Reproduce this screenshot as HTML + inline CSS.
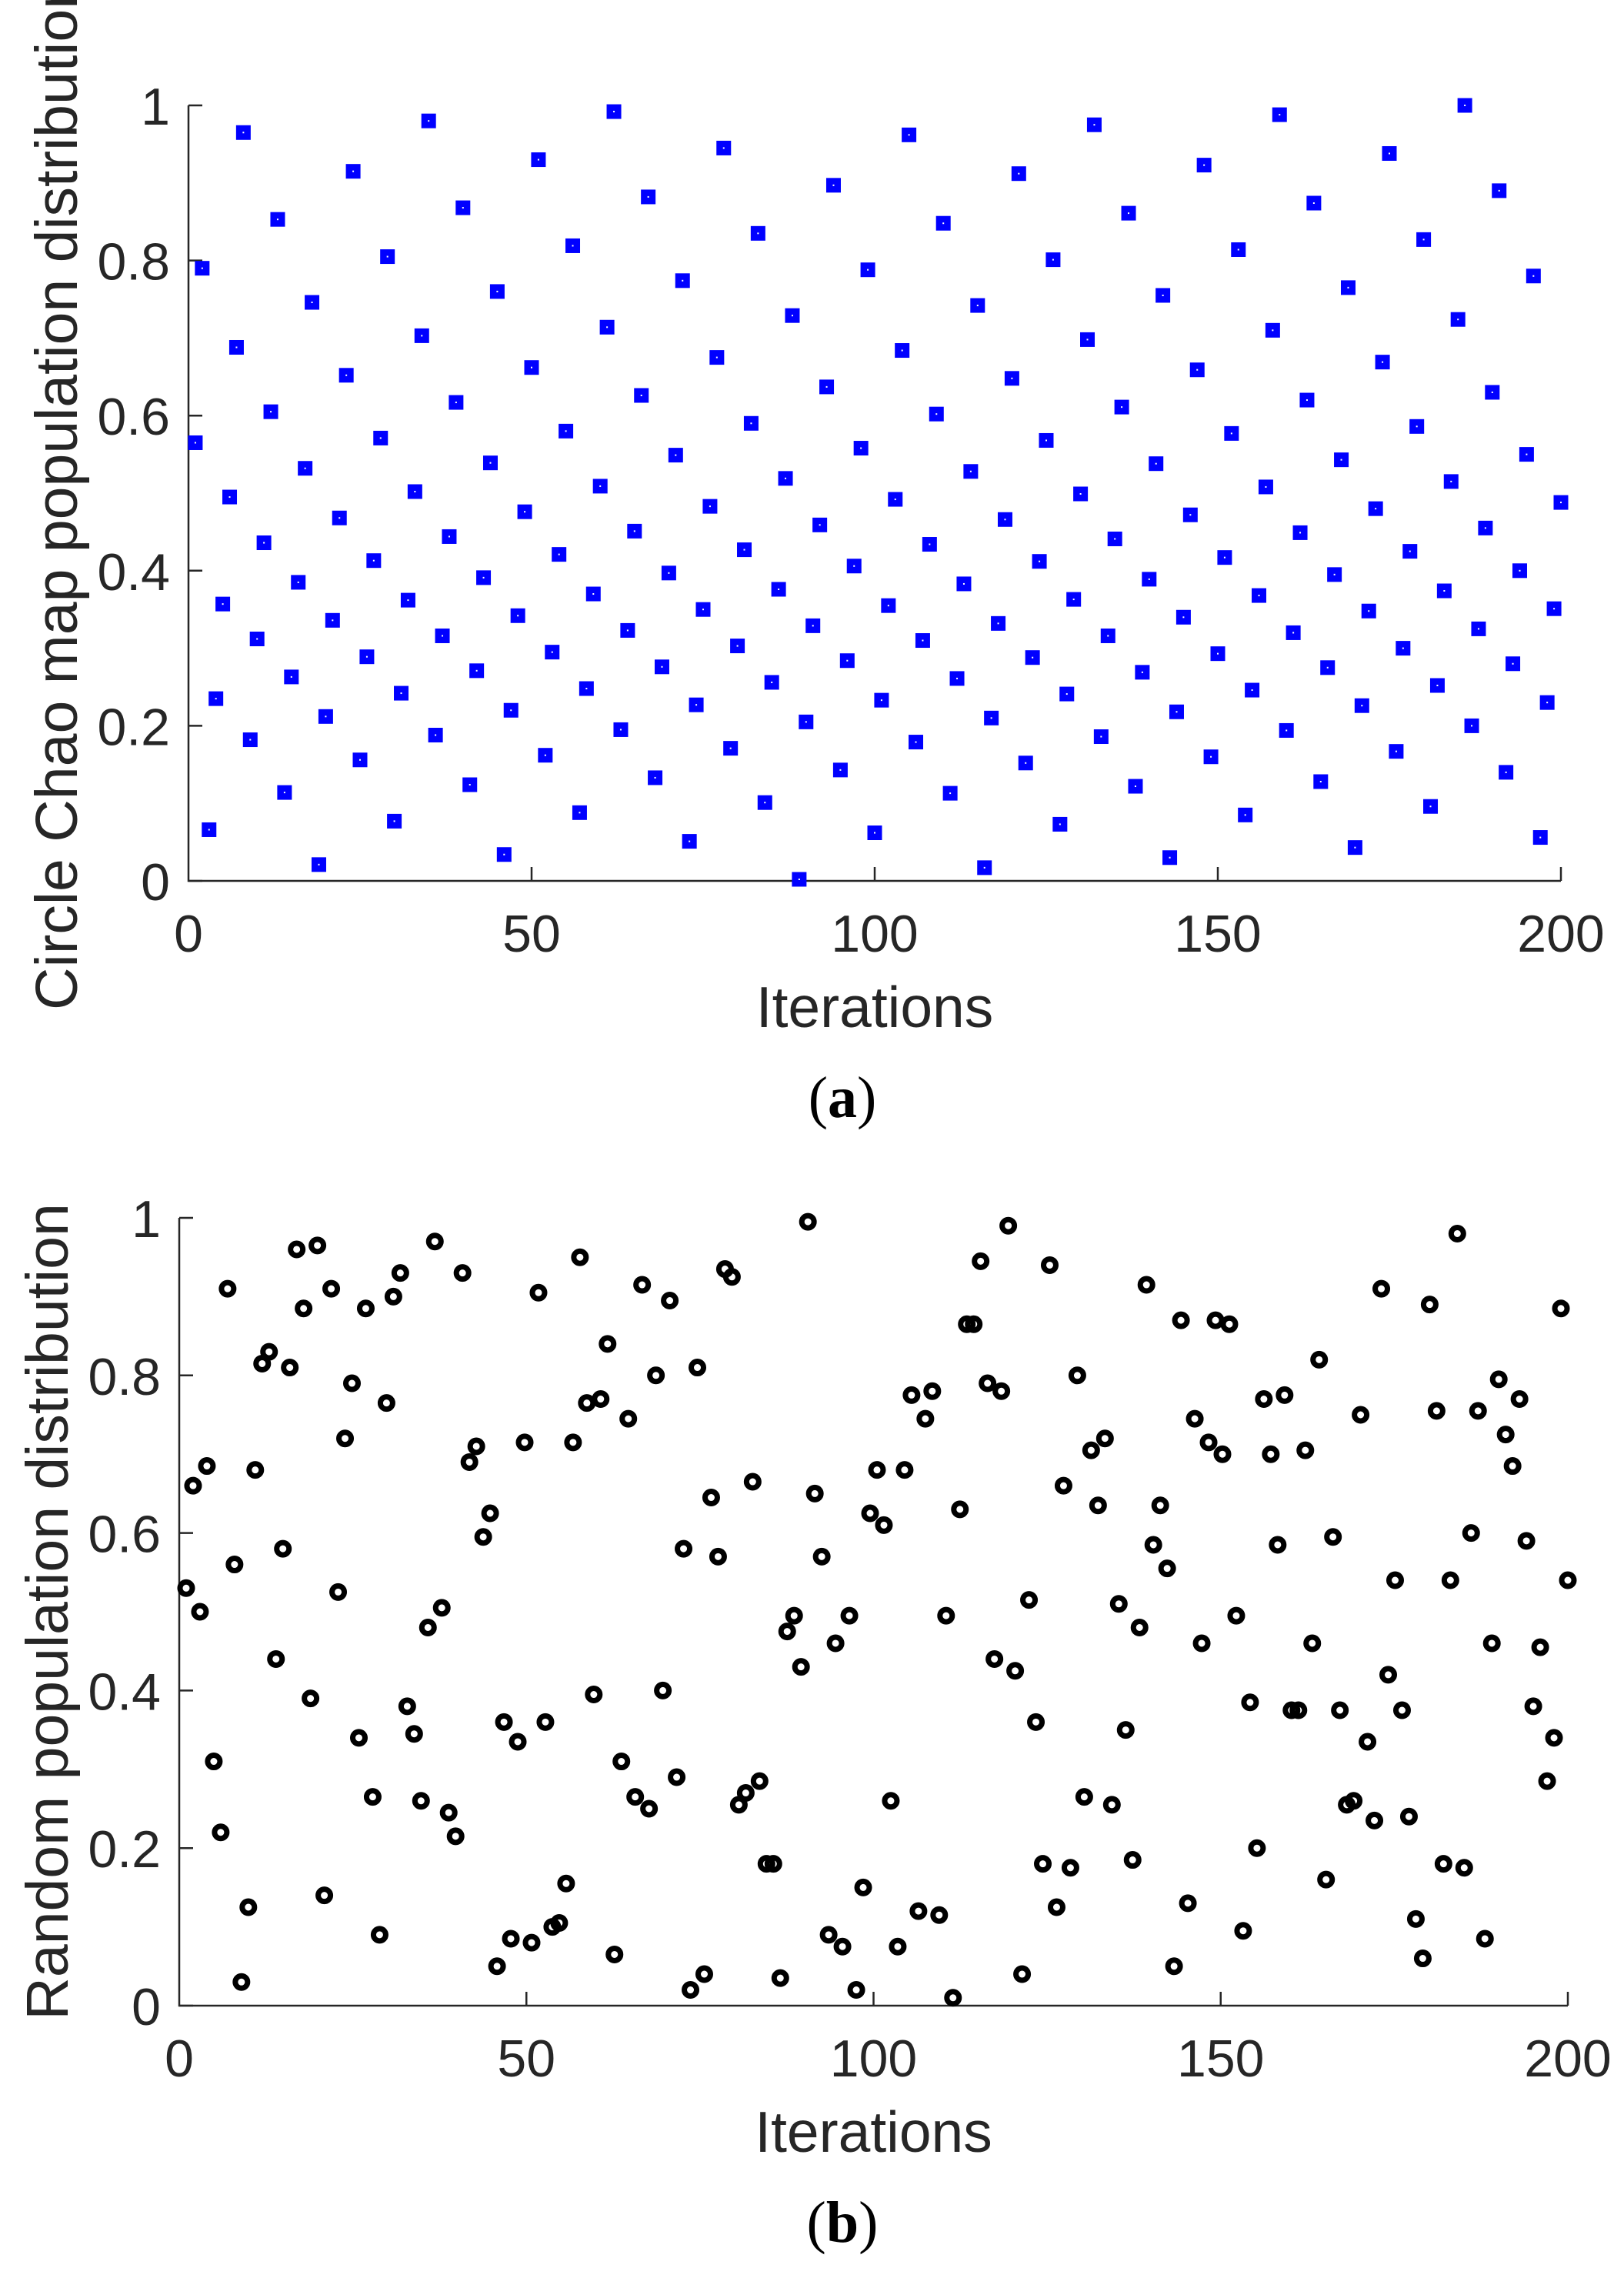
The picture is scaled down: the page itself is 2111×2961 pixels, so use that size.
<!DOCTYPE html>
<html><head><meta charset="utf-8">
<style>
html,body{margin:0;padding:0;background:#fff;}
svg{display:block;}
text{font-family:"Liberation Sans",Arial,sans-serif;fill:#262626;}
</style></head>
<body>
<svg id="fig" width="2111" height="2961" viewBox="0 0 2111 2961" xmlns="http://www.w3.org/2000/svg">
<rect width="2111" height="2961" fill="#fff"/>
<g id="chartA"></g>
<g id="chartB"></g>
<text x="1095" y="1452" text-anchor="middle" style="font-family:'Liberation Serif',serif;font-size:76px;fill:#000">(<tspan font-weight="bold">a</tspan>)</text>
<text x="1095" y="2914" text-anchor="middle" style="font-family:'Liberation Serif',serif;font-size:76px;fill:#000">(<tspan font-weight="bold">b</tspan>)</text>
</svg>
<script>
const xTicks = [0, 50, 100, 150, 200];
const yTicks = [0, 0.2, 0.4, 0.6, 0.8, 1];
const yTickLabels = ["0", "0.2", "0.4", "0.6", "0.8", "1"];
const circleValues = [0.565,0.79,0.066,0.235,0.357,0.495,0.688,0.965,0.182,0.312,
0.436,0.605,0.853,0.114,0.263,0.385,0.532,0.746,0.021,0.212,
0.336,0.468,0.652,0.915,0.156,0.289,0.413,0.571,0.805,0.077,
0.242,0.362,0.502,0.703,0.98,0.188,0.316,0.444,0.617,0.868,
0.124,0.271,0.391,0.539,0.76,0.034,0.22,0.342,0.476,0.662,
0.93,0.162,0.295,0.421,0.58,0.819,0.088,0.248,0.37,0.509,
0.714,0.992,0.195,0.323,0.451,0.626,0.882,0.133,0.276,0.397,
0.549,0.774,0.051,0.227,0.35,0.483,0.675,0.945,0.171,0.303,
0.427,0.59,0.835,0.101,0.256,0.376,0.519,0.729,0.002,0.205,
0.329,0.459,0.637,0.897,0.143,0.284,0.406,0.558,0.788,0.062,
0.233,0.355,0.492,0.684,0.962,0.179,0.31,0.434,0.602,0.848,
0.113,0.261,0.383,0.528,0.742,0.017,0.21,0.332,0.466,0.648,
0.912,0.152,0.288,0.412,0.568,0.801,0.073,0.241,0.363,0.499,
0.698,0.975,0.186,0.316,0.441,0.611,0.861,0.122,0.269,0.389,
0.538,0.755,0.03,0.218,0.34,0.472,0.659,0.923,0.16,0.293,
0.417,0.577,0.814,0.085,0.246,0.368,0.508,0.71,0.988,0.194,
0.32,0.449,0.62,0.874,0.128,0.275,0.395,0.543,0.765,0.043,
0.226,0.348,0.48,0.669,0.938,0.167,0.3,0.425,0.586,0.827,
0.096,0.252,0.374,0.515,0.724,1.0,0.20,0.325,0.455,0.63,
0.89,0.14,0.28,0.40,0.55,0.78,0.056,0.23,0.351,0.488];
const randomValues = [0.53,0.66,0.50,0.685,0.31,0.22,0.91,0.56,0.03,0.125,
0.68,0.815,0.83,0.44,0.58,0.81,0.96,0.885,0.39,0.965,
0.14,0.91,0.525,0.72,0.79,0.34,0.885,0.265,0.09,0.765,
0.9,0.93,0.38,0.345,0.26,0.48,0.97,0.505,0.245,0.215,
0.93,0.69,0.71,0.595,0.625,0.05,0.36,0.085,0.335,0.715,
0.08,0.905,0.36,0.1,0.105,0.155,0.715,0.95,0.765,0.395,
0.77,0.84,0.065,0.31,0.745,0.265,0.915,0.25,0.8,0.4,
0.895,0.29,0.58,0.02,0.81,0.04,0.645,0.57,0.935,0.925,
0.255,0.27,0.665,0.285,0.18,0.18,0.035,0.475,0.495,0.43,
0.995,0.65,0.57,0.09,0.46,0.075,0.495,0.02,0.15,0.625,
0.68,0.61,0.26,0.075,0.68,0.775,0.12,0.745,0.78,0.115,
0.495,0.01,0.63,0.865,0.865,0.945,0.79,0.44,0.78,0.99,
0.425,0.04,0.515,0.36,0.18,0.94,0.125,0.66,0.175,0.8,
0.265,0.705,0.635,0.72,0.255,0.51,0.35,0.185,0.48,0.915,
0.585,0.635,0.555,0.05,0.87,0.13,0.745,0.46,0.715,0.87,
0.7,0.865,0.495,0.095,0.385,0.2,0.77,0.7,0.585,0.775,
0.375,0.375,0.705,0.46,0.82,0.16,0.595,0.375,0.255,0.26,
0.75,0.335,0.235,0.91,0.42,0.54,0.375,0.24,0.11,0.06,
0.89,0.755,0.18,0.54,0.98,0.175,0.6,0.755,0.085,0.46,
0.795,0.725,0.685,0.77,0.59,0.38,0.455,0.285,0.34,0.885,0.54];

const NS = "http://www.w3.org/2000/svg";
function mk(parent, tag, attrs){
  const e = document.createElementNS(NS, tag);
  for (const k in attrs) e.setAttribute(k, attrs[k]);
  parent.appendChild(e);
  return e;
}

function drawAxes(g, L, R, T, B, yTitle, titleX){
  const sx = v => L + (v / 200) * (R - L);
  const sy = v => B - v * (B - T);
  const ya = mk(g, "path", {d:`M${L} ${T}V${B}H${R}`, fill:"none", stroke:"#262626", "stroke-width":2.5});
  
  
  yTicks.forEach((v, i) => {
    const y = sy(v);
    const t = mk(g, "line", {x1:L, x2:L+18, y1:y, y2:y, stroke:"#262626", "stroke-width":2.5});
    
    
    const lb = mk(g, "text", {x:L-24, y:y+25, "text-anchor":"end", "font-size":68});
    
    
    lb.textContent = yTickLabels[i];
  });
  xTicks.forEach(v => {
    const x = sx(v);
    if (v > 0) {
      const t = mk(g, "line", {x1:x, x2:x, y1:B, y2:B-18, stroke:"#262626", "stroke-width":2.5});
      
      
    }
    const lb = mk(g, "text", {x:x, y:B+92, "text-anchor":"middle", "font-size":68});
    
    
    lb.textContent = String(v);
  });
  const xt = mk(g, "text", {x:(L+R)/2, y:B+190, "text-anchor":"middle", "font-size":75});
  
  
  xt.textContent = "Iterations";
  const cy = (T+B)/2;
  const yt = mk(g, "text", {x:titleX, y:cy, "text-anchor":"middle", "font-size":77, transform:`rotate(-90 ${titleX} ${cy})`});
  
  
  yt.textContent = yTitle;
  return {sx, sy};
}

// Chart A
(function(){
  const g = document.getElementById("chartA");
  const {sx, sy} = drawAxes(g, 245, 2029, 137, 1145, "Circle Chao map population distribution", 100);
  circleValues.forEach((v, i) => {
    const x = sx(i + 1), y = sy(v);
    const r = mk(g, "rect", {x:x-9.5, y:y-9.5, width:19, height:19, fill:"#0000ff"});
    
    
    const d = mk(g, "rect", {x:x-1, y:y-1, width:2, height:2, fill:"#fff"});
    
    
  });
})();

// Chart B
(function(){
  const g = document.getElementById("chartB");
  const {sx, sy} = drawAxes(g, 233, 2038, 1583, 2607, "Random population distribution", 88);
  const n = randomValues.length;
  randomValues.forEach((v, i) => {
    const c = mk(g, "circle", {cx:sx((i + 1) * 200 / n), cy:sy(v), r:8, fill:"none", stroke:"#000", "stroke-width":7});
    
    
  });
})();
</script>
</body></html>
